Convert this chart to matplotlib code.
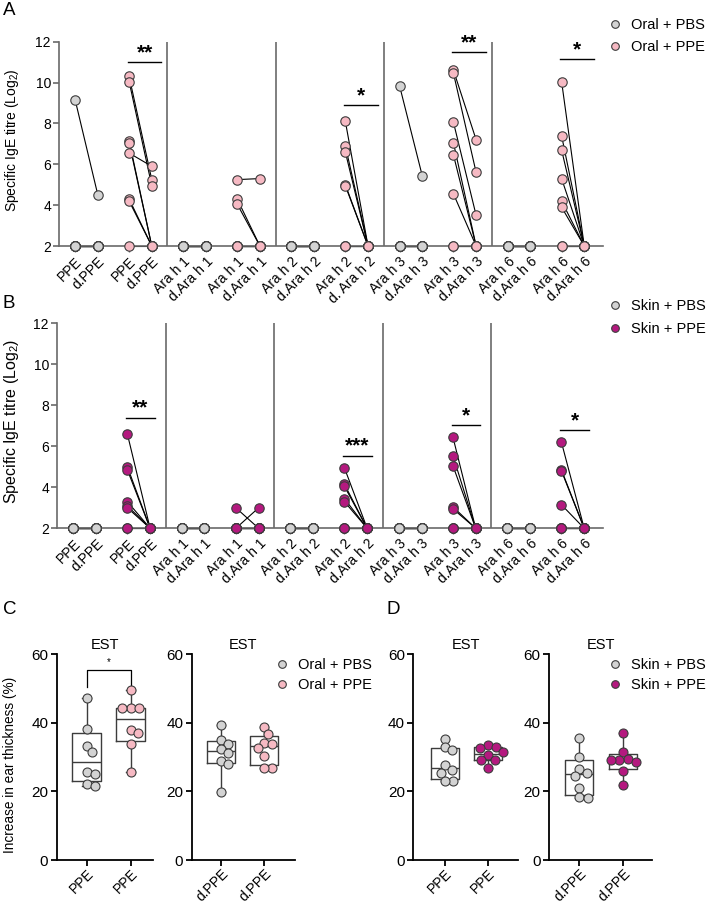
import numpy as np
import matplotlib.pyplot as plt
from matplotlib.lines import Line2D

plt.rcParams['font.family'] = ['Liberation Sans', 'DejaVu Sans']
plt.rcParams['mathtext.fontset'] = 'custom'
plt.rcParams['mathtext.rm'] = 'Liberation Sans'

grey = '#d3d3d3'
pink = '#f6b9c3'
magenta = '#b4197f'
edge = '#3c3c3c'
axcol = '#6a6a6a'

# ---- A / B: specific IgE titre (log2), 8 mice, native -> denatured ----
xlabels_a = ['PPE', 'd.PPE', 'PPE', 'd.PPE',
             'Ara h 1', 'd.Ara h 1', 'Ara h 1', 'd.Ara h 1',
             'Ara h 2', 'd.Ara h 2', 'Ara h 2', 'd. Ara h 2',
             'Ara h 3', 'd.Ara h 3', 'Ara h 3', 'd.Ara h 3',
             'Ara h 6', 'd.Ara h 6', 'Ara h 6', 'd.Ara h 6']
xlabels_b = ['PPE', 'd.PPE', 'PPE', 'd.PPE',
             'Ara h 1', 'd.Ara h 1', 'Ara h 1', 'd.Ara h 1',
             'Ara h 2', 'd.Ara h 2', 'Ara h 2', 'd.Ara h 2',
             'Ara h 3', 'd.Ara h 3', 'Ara h 3', 'd.Ara h 3',
             'Ara h 6', 'd.Ara h 6', 'Ara h 6', 'd.Ara h 6']

oral_pbs_native = [[9.15, 2, 2, 2, 2, 2, 2, 2],
                   [2, 2, 2, 2, 2, 2, 2, 2],
                   [2, 2, 2, 2, 2, 2, 2, 2],
                   [9.85, 2, 2, 2, 2, 2, 2, 2],
                   [2, 2, 2, 2, 2, 2, 2, 2]]
oral_pbs_denat = [[4.5, 2, 2, 2, 2, 2, 2, 2],
                  [2, 2, 2, 2, 2, 2, 2, 2],
                  [2, 2, 2, 2, 2, 2, 2, 2],
                  [5.45, 2, 2, 2, 2, 2, 2, 2],
                  [2, 2, 2, 2, 2, 2, 2, 2]]
oral_ppe_native = [[10.3, 10.05, 6.55, 7.15, 7.05, 4.3, 4.2, 2],
                   [5.25, 4.3, 4.05, 2, 2, 2, 2, 2],
                   [8.1, 6.9, 6.6, 5.0, 4.95, 2, 2, 2],
                   [10.6, 10.45, 8.05, 7.05, 6.45, 4.55, 2, 2],
                   [10.05, 7.4, 6.7, 5.3, 4.2, 3.9, 2, 2]]
oral_ppe_denat = [[5.25, 4.95, 5.9, 2, 2, 2, 2, 2],
                  [5.3, 2, 2, 2, 2, 2, 2, 2],
                  [2, 2, 2, 2, 2, 2, 2, 2],
                  [7.2, 5.6, 3.5, 2, 2, 2, 2, 2],
                  [2, 2, 2, 2, 2, 2, 2, 2]]

skin_pbs_native = [[2, 2, 2, 2, 2, 2, 2, 2],
                   [2, 2, 2, 2, 2, 2, 2, 2],
                   [2, 2, 2, 2, 2, 2, 2, 2],
                   [2, 2, 2, 2, 2, 2, 2, 2],
                   [2, 2, 2, 2, 2, 2, 2, 2]]
skin_pbs_denat = [[2, 2, 2, 2, 2, 2, 2, 2],
                  [2, 2, 2, 2, 2, 2, 2, 2],
                  [2, 2, 2, 2, 2, 2, 2, 2],
                  [2, 2, 2, 2, 2, 2, 2, 2],
                  [2, 2, 2, 2, 2, 2, 2, 2]]
skin_ppe_native = [[6.6, 5.0, 4.85, 3.3, 3.1, 3.0, 2, 2],
                   [3, 2, 2, 2, 2, 2, 2, 2],
                   [4.95, 4.15, 4.05, 3.45, 3.3, 2, 2, 2],
                   [6.45, 5.55, 5.05, 3.05, 2.95, 2, 2, 2],
                   [6.2, 4.85, 4.8, 3.15, 2, 2, 2, 2]]
skin_ppe_denat = [[2, 2, 2, 2, 2, 2, 2, 2],
                  [2, 3, 2, 2, 2, 2, 2, 2],
                  [2, 2, 2, 2, 2, 2, 2, 2],
                  [2, 2, 2, 2, 2, 2, 2, 2],
                  [2, 2, 2, 2, 2, 2, 2, 2]]

# (antigen group, bar height, label)
sig_a = [(0, 11.0, '**'), (2, 8.9, '*'), (3, 11.5, '**'), (4, 11.15, '*')]
sig_b = [(0, 7.4, '**'), (2, 5.55, '***'), (3, 7.05, '*'), (4, 6.78, '*')]

# ---- C / D: increase in ear thickness (%) after EST ----
c_pbs_ppe = [47.3, 38.1, 33.3, 31.5, 25.7, 25.0, 22.2, 21.5]
c_ppe_ppe = [49.6, 44.4, 44.4, 44.4, 37.9, 36.9, 33.8, 25.8]
c_pbs_dppe = [39.5, 34.9, 33.8, 32.5, 31.2, 28.9, 27.9, 19.8]
c_ppe_dppe = [38.7, 36.7, 34.2, 33.8, 32.6, 30.4, 26.9, 26.9]
d_pbs_ppe = [35.4, 33.0, 32.0, 27.6, 26.3, 25.5, 23.0, 23.0]
d_ppe_ppe = [33.5, 33.0, 32.6, 31.5, 30.6, 29.2, 29.2, 26.9]
d_pbs_dppe = [35.6, 30.0, 26.6, 25.4, 24.5, 21.1, 18.3, 18.0]
d_ppe_dppe = [36.9, 31.5, 29.6, 29.3, 29.1, 28.5, 25.9, 21.8]

STEP = 4.77
OFFS = np.array([0, 1, 2.38, 3.38])


def titre_panel(ax, pbs_n, pbs_d, ppe_n, ppe_d, col, labels, sig, bar_w):
    ticks = []
    for g in range(5):
        xs = g * STEP + 0.7 + OFFS
        ticks.extend(xs)
        for (nat, den, c, x0, x1) in [(pbs_n[g], pbs_d[g], grey, xs[0], xs[1]),
                                      (ppe_n[g], ppe_d[g], col, xs[2], xs[3])]:
            for a, b in zip(nat, den):
                ax.plot([x0, x1], [a, b], color='k', lw=0.8, zorder=2,
                        clip_on=False)
            ax.scatter([x0] * len(nat), nat, s=46, color=c, edgecolor=edge,
                       lw=0.8, zorder=3, clip_on=False)
            ax.scatter([x1] * len(den), den, s=46, color=c, edgecolor=edge,
                       lw=0.8, zorder=3, clip_on=False)
        if g > 0:
            ax.axvline(g * STEP, color=axcol, lw=1.2, zorder=1)
    for g, y, lab in sig:
        x0 = g * STEP + 0.7 + OFFS[2] - 0.05
        ax.plot([x0, x0 + bar_w], [y, y], color='k', lw=1.0, clip_on=False)
        ax.text(x0 + bar_w / 2, y + 0.45, lab, ha='center', va='center',
                fontsize=15, fontweight='bold')
    ax.set_xlim(0, 24)
    ax.set_ylim(2, 12)
    ax.set_yticks([2, 4, 6, 8, 10, 12])
    ax.set_xticks(ticks)
    ax.set_xticklabels(labels, rotation=45, ha='right', rotation_mode='anchor',
                       fontsize=10)
    ax.tick_params(axis='y', labelsize=10, color=axcol, width=1.2, length=4,
                   pad=2)
    ax.tick_params(axis='x', color=axcol, width=1.0, length=4, pad=2)
    for s in ['top', 'right']:
        ax.spines[s].set_visible(False)
    for s in ['left', 'bottom']:
        ax.spines[s].set_color(axcol)
        ax.spines[s].set_linewidth(1.2)


def swarm(vals, x0, xpx, ypx, diam=8.2):
    cand = sorted(np.concatenate([np.arange(0, 3 * diam, 0.5),
                                  -np.arange(0.5, 3 * diam, 0.5)]), key=abs)
    placed = []
    xs = np.zeros(len(vals))
    for i in np.argsort(vals)[::-1]:
        y = vals[i] * ypx
        for off in cand:
            if all((off - px) ** 2 + (y - py) ** 2 >= diam ** 2 for px, py in placed):
                break
        placed.append((off, y))
        xs[i] = x0 + off / xpx
    return xs


def box_panel(ax, pbs, ppe, col, labels, xlim):
    stats = []
    for v in (pbs, ppe):
        v = np.asarray(v)
        q1, med, q3 = np.percentile(v, [25, 50, 75], method='weibull')
        stats.append(dict(med=med, q1=q1, q3=q3, whislo=v.min(),
                          whishi=v.max(), fliers=[]))
    lp = dict(color=edge, lw=1.0)
    ax.bxp(stats, positions=[1, 2], widths=0.65, capwidths=0.2,
           showfliers=False, boxprops=lp, whiskerprops=lp, capprops=lp,
           medianprops=lp)
    for pos, v, c in [(1, pbs, grey), (2, ppe, col)]:
        xs = swarm(np.asarray(v), pos, 43.5, 205.7 / 60)
        ax.scatter(xs, v, s=42, color=c, edgecolor=edge, lw=0.8, zorder=3)
    ax.set_xlim(*xlim)
    ax.set_ylim(0, 60)
    ax.set_yticks([0, 20, 40, 60])
    ax.set_xticks([1, 2])
    ax.set_xticklabels(labels, rotation=45, ha='right', rotation_mode='anchor',
                       fontsize=10)
    ax.tick_params(axis='y', labelsize=11, width=1.3, length=4, color='k', pad=2)
    ax.tick_params(axis='x', width=1.3, length=4, color='k', pad=1)
    for s in ['top', 'right']:
        ax.spines[s].set_visible(False)
    for s in ['left', 'bottom']:
        ax.spines[s].set_linewidth(1.3)
    ax.set_title('EST', fontsize=10.5, pad=4)


def legend(fig, labels, col, x, y, spacing):
    h = [Line2D([], [], marker='o', ls='', mfc=c, mec=edge, mew=0.8, ms=5.5,
                label=l) for l, c in zip(labels, [grey, col])]
    fig.legend(handles=h, loc='upper left', bbox_to_anchor=(x, y),
               frameon=False, fontsize=10.5, handlelength=1.0,
               handletextpad=0.6, labelspacing=spacing, borderpad=0,
               borderaxespad=0)


W, H = 709, 905
fig = plt.figure(figsize=(W / 100, H / 100), dpi=100)

axA = fig.add_axes([59.3 / W, 1 - 246 / H, 544 / W, 204.3 / H])
titre_panel(axA, oral_pbs_native, oral_pbs_denat, oral_ppe_native,
            oral_ppe_denat, pink, xlabels_a, sig_a, 1.47)
axB = fig.add_axes([57.3 / W, 1 - 528.3 / H, 546 / W, 205 / H])
titre_panel(axB, skin_pbs_native, skin_pbs_denat, skin_ppe_native,
            skin_ppe_denat, magenta, xlabels_b, sig_b, 1.25)

bot = 1 - 860 / H
hgt = 205.7 / H
axC1 = fig.add_axes([56.7 / W, bot, 96.3 / W, hgt])
box_panel(axC1, c_pbs_ppe, c_ppe_ppe, pink, ['PPE', 'PPE'], (0.318, 2.507))
axC1.plot([1, 1, 2, 2], [50.5, 55.4, 55.4, 50.5], color='k', lw=0.9)
axC1.text(1.5, 57.6, '*', ha='center', va='center', fontsize=7)
axC2 = fig.add_axes([191.7 / W, bot, 103.3 / W, hgt])
box_panel(axC2, c_pbs_dppe, c_ppe_dppe, pink, ['d.PPE', 'd.PPE'], (0.319, 2.72))
axD1 = fig.add_axes([413.3 / W, bot, 104.7 / W, hgt])
box_panel(axD1, d_pbs_ppe, d_ppe_ppe, magenta, ['PPE', 'PPE'], (0.263, 2.698))
axD2 = fig.add_axes([549 / W, bot, 103 / W, hgt])
box_panel(axD2, d_pbs_dppe, d_ppe_dppe, magenta, ['d.PPE', 'd.PPE'], (0.318, 2.659))

legend(fig, ['Oral + PBS', 'Oral + PPE'], pink, 608 / W, 1 - 18 / H, 0.55)
legend(fig, ['Skin + PBS', 'Skin + PPE'], magenta, 608 / W, 1 - 299 / H, 0.6)
legend(fig, ['Oral + PBS', 'Oral + PPE'], pink, 275 / W, 1 - 658 / H, 0.4)
legend(fig, ['Skin + PBS', 'Skin + PPE'], magenta, 608 / W, 1 - 658 / H, 0.4)

ylab = 'Specific IgE titre (Log$_\\mathregular{2}$)'
fig.text(12.5 / W, 1 - 140 / H, ylab, rotation=90, ha='center', va='center',
         fontsize=10)
fig.text(12 / W, 1 - 421 / H, ylab, rotation=90, ha='center', va='center',
         fontsize=11.5)
fig.text(10 / W, 1 - 765 / H, 'Increase in ear thickness (%)', rotation=90,
         ha='center', va='center', fontsize=9.8)

for lab, x, y in [('A', 3, 2), ('B', 3, 295), ('C', 3, 601), ('D', 386, 601)]:
    fig.text(x / W, 1 - y / H, lab, fontsize=13.5, va='top', ha='left')

fig.savefig('out.png', dpi=100)
